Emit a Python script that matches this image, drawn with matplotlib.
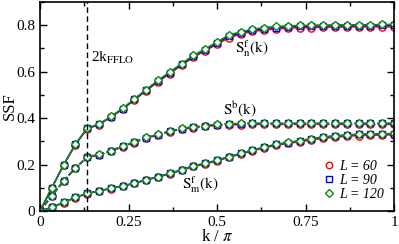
import numpy as np
import matplotlib
matplotlib.use('Agg')
import matplotlib.pyplot as plt
from matplotlib.ticker import MultipleLocator

plt.rcParams['font.family'] = ['Liberation Serif', 'DejaVu Serif']
plt.rcParams['mathtext.fontset'] = 'stix'

# k / pi grid (n / 30)
k = [n / 30 for n in range(31)]

# S_n^f(k)
snf_60 = [0.0, 0.100, 0.198, 0.286, 0.354, 0.372, 0.404, 0.438, 0.478, 0.518, 0.556,
          0.592, 0.628, 0.662, 0.690, 0.718, 0.745, 0.762, 0.773, 0.779, 0.784,
          0.787, 0.789, 0.790, 0.791, 0.792, 0.792, 0.793, 0.793, 0.793, 0.793]
snf_90 = [0.0, 0.100, 0.199, 0.287, 0.356, 0.373, 0.406, 0.440, 0.481, 0.521, 0.560,
          0.596, 0.632, 0.667, 0.695, 0.724, 0.752, 0.767, 0.778, 0.785, 0.790,
          0.793, 0.795, 0.796, 0.797, 0.797, 0.798, 0.798, 0.798, 0.799, 0.799]
snf_120 = [0.0, 0.100, 0.200, 0.288, 0.358, 0.374, 0.407, 0.442, 0.483, 0.523, 0.563,
           0.599, 0.635, 0.670, 0.698, 0.728, 0.758, 0.771, 0.783, 0.790, 0.795,
           0.797, 0.799, 0.800, 0.801, 0.801, 0.802, 0.802, 0.802, 0.803, 0.803]

# S^b(k)
sb_60 = [0.0, 0.065, 0.128, 0.184, 0.231, 0.241, 0.257, 0.277, 0.295, 0.313, 0.327,
         0.341, 0.352, 0.359, 0.364, 0.369, 0.371, 0.372, 0.373, 0.373, 0.373,
         0.373, 0.373, 0.373, 0.373, 0.373, 0.373, 0.373, 0.373, 0.373, 0.373]
sb_90 = [0.0, 0.066, 0.130, 0.186, 0.233, 0.243, 0.259, 0.279, 0.297, 0.316, 0.329,
         0.344, 0.355, 0.362, 0.367, 0.372, 0.375, 0.376, 0.377, 0.377, 0.377,
         0.377, 0.377, 0.377, 0.377, 0.377, 0.377, 0.377, 0.377, 0.377, 0.377]
sb_120 = [0.0, 0.066, 0.130, 0.186, 0.234, 0.244, 0.260, 0.280, 0.298, 0.317, 0.330,
          0.345, 0.356, 0.363, 0.368, 0.374, 0.376, 0.377, 0.378, 0.378, 0.378,
          0.378, 0.378, 0.378, 0.378, 0.378, 0.378, 0.378, 0.378, 0.378, 0.378]

# S_m^f(k)
smf_60 = [0.0, 0.016, 0.036, 0.058, 0.075, 0.086, 0.097, 0.107, 0.119, 0.133, 0.146,
          0.160, 0.175, 0.192, 0.202, 0.216, 0.231, 0.245, 0.259, 0.272, 0.283,
          0.291, 0.298, 0.306, 0.313, 0.318, 0.322, 0.325, 0.326, 0.327, 0.328]
smf_90 = [0.0, 0.016, 0.037, 0.059, 0.076, 0.087, 0.098, 0.108, 0.120, 0.135, 0.148,
          0.162, 0.178, 0.195, 0.205, 0.219, 0.234, 0.248, 0.262, 0.275, 0.287,
          0.295, 0.302, 0.311, 0.318, 0.323, 0.327, 0.330, 0.331, 0.332, 0.333]
smf_120 = [0.0, 0.016, 0.037, 0.059, 0.076, 0.087, 0.098, 0.108, 0.120, 0.135, 0.148,
           0.162, 0.178, 0.195, 0.205, 0.219, 0.234, 0.248, 0.262, 0.275, 0.287,
           0.296, 0.303, 0.312, 0.319, 0.324, 0.328, 0.331, 0.332, 0.333, 0.334]

k_fflo = 2 / 15

sizes = ['60', '90', '120']
colors = ['#ff0000', '#0000ff', '#118a11']
markers = ['o', 's', 'D']
msizes = [5.2, 4.6, 4.4]

fig = plt.figure(figsize=(3.99, 2.44), dpi=100)
ax = fig.add_axes([0.1003, 0.135, 0.8872, 0.857])

curves = [
    ([snf_60, snf_90, snf_120], '-'),
    ([sb_60, sb_90, sb_120], (0, (3.5, 1.5))),
    ([smf_60, smf_90, smf_120], '-'),
]
for j, (series, ls) in enumerate(curves):
    for i in range(3):
        ax.plot(k, series[i], color=colors[i], ls=ls, lw=1.1,
                marker=markers[i], ms=msizes[i], mfc='white', mec=colors[i], mew=1.0,
                label=f'L = {sizes[i]}' if j == 0 else None)

ax.axvline(k_fflo, color='black', ls=(0, (4, 2.5)), lw=1.0)

ax.text(k_fflo + 0.01, 0.64, r'2k$_{\mathrm{FFLO}}$', fontsize=11)
ax.text(0.552, 0.68, r'$\mathrm{S}_{\mathrm{n}}^{\mathrm{f}}\mathrm{(k)}$', fontsize=11)
ax.text(0.518, 0.415, r'$\mathrm{S}^{\mathrm{b}}\mathrm{(k)}$', fontsize=11)
ax.text(0.40, 0.095, r'$\mathrm{S}_{\mathrm{m}}^{\mathrm{f}}\mathrm{(k)}$', fontsize=11)

ax.set_xlim(0, 1)
ax.set_ylim(0, 0.9)
ax.xaxis.set_minor_locator(MultipleLocator(0.125))
ax.yaxis.set_minor_locator(MultipleLocator(0.1))
ax.set_xticks([0, 0.25, 0.5, 0.75, 1])
ax.set_xticklabels(['0', '0.25', '0.5', '0.75', '1'])
ax.set_yticks([0, 0.2, 0.4, 0.6, 0.8])
ax.set_yticklabels(['0', '0.2', '0.4', '0.6', '0.8'])
ax.tick_params(which='both', direction='in', top=True, right=True, labelsize=11)
ax.tick_params(which='major', length=5, width=1)
ax.tick_params(which='minor', length=3, width=1)
for sp in ax.spines.values():
    sp.set_linewidth(1.2)

ax.set_xlabel(r'k / $\pi$', fontsize=12, labelpad=0)
ax.set_ylabel('SSF', fontsize=12)
ax.yaxis.set_label_coords(-0.062, 0.5)

leg = ax.legend(loc='lower right', frameon=False, fontsize=10, handlelength=0.5,
                handletextpad=0.5, labelspacing=0.1, borderaxespad=0.3,
                markerscale=0.9)
for line in leg.get_lines():
    line.set_linestyle('None')
for t in leg.get_texts():
    t.set_fontstyle('italic')

fig.savefig('out.png', dpi=100)
